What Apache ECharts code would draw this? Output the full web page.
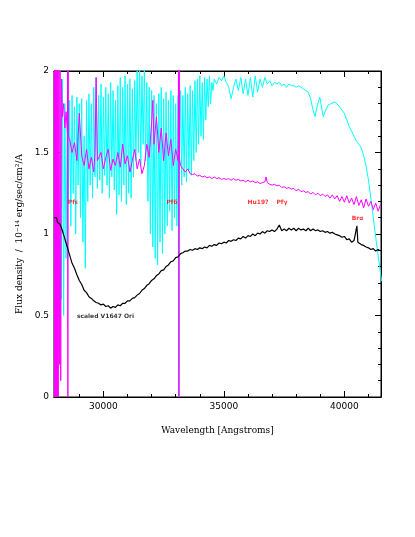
<!DOCTYPE html>
<html>
<head>
<meta charset="utf-8">
<script src="https://cdn.jsdelivr.net/npm/echarts@6/dist/echarts.min.js"></script>
<style>
  html, body { margin: 0; padding: 0; background: #fff; }
  #chart { width: 415px; height: 537px; }
</style>
</head>
<body>
<div id="chart"></div>
<script>
// axis range and ticks
const xMin = 27950, xMax = 41520
const xMajor = [30000, 35000, 40000]
const xMinor = [28000, 29000, 31000, 32000, 33000, 34000, 36000, 37000, 38000, 39000, 41000]

// cyan spectrum [wavelength, flux]
const cyan = [
  [28200,2.10],[28250,0.60],[28300,1.95],[28350,0.50],[28400,1.80],[28450,0.85],[28500,1.75],[28550,1.20],
  [28600,1.82],[28650,1.05],[28700,1.85],[28750,1.25],[28800,1.78],[28850,1.00],[28900,1.84],[28950,1.30],
  [29000,1.80],[29050,1.10],[29100,1.83],[29150,0.95],[29200,1.60],[29250,0.79],[29300,1.82],[29350,1.20],
  [29400,1.86],[29450,1.30],[29500,1.80],[29550,1.22],[29600,1.90],[29650,1.35],[29700,1.96],[29750,1.28],
  [29800,1.85],[29850,1.33],[29900,1.92],[29950,1.25],[30000,1.84],[30050,1.36],[30100,1.90],[30150,1.30],
  [30200,1.86],[30250,1.22],[30300,1.93],[30350,1.35],[30400,1.88],[30450,1.27],[30500,1.82],[30550,1.12],
  [30600,1.91],[30650,1.24],[30700,1.96],[30750,1.20],[30800,1.90],[30850,1.30],[30900,1.97],[30950,1.18],
  [31000,1.92],[31050,1.25],[31100,1.95],[31150,1.22],[31200,1.89],[31250,1.35],[31300,1.94],[31350,1.45],
  [31400,2.00],[31450,1.50],[31500,2.05],[31550,1.42],[31600,1.97],[31650,1.55],[31700,2.02],[31750,1.45],
  [31800,1.93],[31850,1.20],[31900,1.90],[31950,1.00],[32000,1.88],[32050,0.92],[32100,1.85],[32150,0.85],
  [32200,1.80],[32250,0.81],[32300,1.86],[32350,0.95],[32400,1.90],[32450,0.88],[32500,1.83],[32550,1.00],
  [32600,1.87],[32650,1.05],[32700,1.82],[32750,1.14],[32800,1.88],[32850,1.02],[32900,1.85],[32950,1.10],
  [33000,1.80],[33050,1.05],[33100,1.85],[33130,0.00],[33160,1.50],[33200,1.88],[33250,1.30],[33300,1.85],
  [33350,1.35],[33400,1.90],[33450,1.32],[33500,1.86],[33550,1.39],[33600,1.91],[33650,1.36],[33700,1.88],
  [33750,1.45],[33800,1.94],[33850,1.50],[33900,1.95],[33950,1.55],[34000,1.97],[34050,1.60],[34100,1.93],
  [34150,1.58],[34200,1.96],[34250,1.70],[34300,1.95],[34350,1.78],[34400,1.97],[34450,1.80],[34500,1.93],
  [34550,1.88],[34600,1.95],[34700,1.92],[34800,1.96],[34900,1.94],[35000,1.97],[35100,1.93],[35200,1.90],
  [35300,1.83],[35400,1.90],[35500,1.95],[35600,1.88],[35700,1.96],[35800,1.86],[35900,1.95],[36000,1.85],
  [36100,1.96],[36200,1.84],[36300,1.97],[36400,1.87],[36500,1.95],[36600,1.90],[36700,1.96],[36800,1.92],
  [36900,1.94],[37000,1.91],[37100,1.93],[37200,1.92],[37300,1.93],[37400,1.91],[37500,1.92],[37600,1.90],
  [37700,1.92],[37800,1.91],[37900,1.91],[38000,1.90],[38100,1.91],[38200,1.90],[38300,1.89],[38400,1.88],
  [38500,1.87],[38600,1.83],[38700,1.76],[38780,1.72],[38880,1.79],[38980,1.84],[39050,1.78],[39120,1.72],
  [39200,1.75],[39320,1.79],[39450,1.80],[39600,1.81],[39750,1.79],[39900,1.76],[40000,1.74],[40100,1.70],
  [40200,1.66],[40300,1.63],[40400,1.60],[40500,1.57],[40600,1.55],[40700,1.53],[40800,1.48],[40900,1.42],
  [41000,1.33],[41100,1.22],[41200,1.10],[41300,0.98],[41400,0.87],[41500,0.76],[41550,0.71]
]

// magenta spectrum [wavelength, flux]
const magenta = [
  [27955,2.30],[27970,0.00],[27985,2.40],[28000,0.00],[28015,2.30],[28030,0.00],[28045,2.40],[28060,0.00],
  [28075,2.30],[28090,0.00],[28105,2.20],[28125,0.00],[28150,2.10],[28175,0.20],[28200,2.05],[28230,0.10],
  [28260,1.95],[28300,1.72],[28350,1.80],[28400,1.65],[28450,1.75],[28510,1.62],[28515,2.30],[28525,0.00],
  [28535,2.30],[28545,1.60],[28600,1.58],[28700,1.50],[28800,1.56],[28900,1.45],[29000,1.74],[29100,1.48],
  [29200,1.42],[29300,1.52],[29400,1.40],[29500,1.47],[29600,1.38],[29650,1.50],[29700,1.96],[29750,1.45],
  [29800,1.44],[29900,1.50],[30000,1.40],[30100,1.47],[30200,1.52],[30300,1.39],[30400,1.46],[30500,1.42],
  [30600,1.50],[30700,1.41],[30800,1.55],[30900,1.43],[31000,1.48],[31100,1.38],[31200,1.45],[31300,1.52],
  [31400,1.40],[31500,1.46],[31600,1.37],[31700,1.42],[31800,1.55],[31900,1.47],[32000,1.68],[32050,1.82],
  [32100,1.55],[32200,1.72],[32300,1.50],[32400,1.65],[32500,1.45],[32600,1.62],[32700,1.48],[32800,1.58],
  [32900,1.42],[33000,1.52],[33100,1.45],[33125,2.30],[33135,0.00],[33145,2.30],[33160,1.46],[33200,1.42],
  [33300,1.40],[33400,1.38],[33500,1.40],[33600,1.37],[33700,1.365],[33800,1.37],[33900,1.355],[34000,1.36],
  [34100,1.35],[34200,1.355],[34300,1.345],[34400,1.35],[34500,1.34],[34600,1.35],[34700,1.34],[34800,1.345],
  [34900,1.335],[35000,1.34],[35100,1.335],[35200,1.34],[35300,1.33],[35400,1.34],[35500,1.33],[35600,1.335],
  [35700,1.325],[35800,1.33],[35900,1.32],[36000,1.33],[36100,1.32],[36200,1.325],[36300,1.315],[36400,1.32],
  [36500,1.31],[36600,1.315],[36700,1.32],[36750,1.35],[36800,1.315],[36900,1.305],[37000,1.30],[37100,1.305],
  [37200,1.295],[37300,1.30],[37400,1.285],[37500,1.29],[37600,1.28],[37700,1.285],[37800,1.275],[37900,1.28],
  [38000,1.265],[38100,1.275],[38200,1.26],[38300,1.265],[38400,1.255],[38500,1.26],[38600,1.245],[38700,1.255],
  [38800,1.24],[38900,1.25],[39000,1.235],[39100,1.245],[39200,1.23],[39300,1.24],[39400,1.22],[39500,1.24],
  [39600,1.215],[39700,1.235],[39800,1.20],[39900,1.23],[40000,1.195],[40100,1.235],[40200,1.19],[40300,1.22],
  [40400,1.18],[40500,1.23],[40600,1.175],[40700,1.21],[40800,1.16],[40900,1.215],[41000,1.17],[41100,1.20],
  [41200,1.15],[41300,1.19],[41400,1.14],[41500,1.18]
]

// scaled V1647 Ori [wavelength, flux]
const scaled = [
  [27960,1.10],[28000,1.09],[28050,1.10],[28100,1.07],[28200,1.06],[28300,1.02],[28400,0.97],[28500,0.92],
  [28600,0.87],[28700,0.82],[28800,0.79],[28900,0.75],[29000,0.715],[29100,0.69],[29200,0.655],[29300,0.64],
  [29400,0.615],[29500,0.605],[29600,0.59],[29700,0.58],[29800,0.575],[29900,0.565],[30000,0.57],[30100,0.555],
  [30200,0.56],[30300,0.545],[30400,0.555],[30500,0.55],[30600,0.565],[30700,0.56],[30800,0.575],[30900,0.575],
  [31000,0.59],[31100,0.59],[31200,0.605],[31300,0.61],[31400,0.625],[31500,0.635],[31600,0.655],[31700,0.665],
  [31800,0.685],[31900,0.695],[32000,0.715],[32100,0.725],[32200,0.745],[32300,0.755],[32400,0.775],[32500,0.78],
  [32600,0.80],[32700,0.81],[32800,0.83],[32900,0.835],[33000,0.855],[33100,0.86],[33200,0.88],[33300,0.885],
  [33400,0.895],[33500,0.895],[33600,0.905],[33700,0.90],[33800,0.91],[33900,0.905],[34000,0.915],[34100,0.91],
  [34200,0.92],[34300,0.915],[34400,0.93],[34500,0.925],[34600,0.935],[34700,0.93],[34800,0.945],[34900,0.94],
  [35000,0.95],[35100,0.945],[35200,0.96],[35300,0.955],[35400,0.965],[35500,0.96],[35600,0.975],[35700,0.97],
  [35800,0.985],[35900,0.975],[36000,0.99],[36100,0.985],[36200,1.00],[36300,0.99],[36400,1.005],[36500,1.00],
  [36600,1.015],[36700,1.005],[36800,1.02],[36900,1.015],[37000,1.025],[37100,1.015],[37200,1.03],[37300,1.055],
  [37400,1.02],[37500,1.03],[37600,1.02],[37700,1.035],[37800,1.025],[37900,1.035],[38000,1.02],[38100,1.035],
  [38200,1.025],[38300,1.03],[38400,1.02],[38500,1.035],[38600,1.02],[38700,1.03],[38800,1.02],[38900,1.025],
  [39000,1.015],[39100,1.02],[39200,1.01],[39300,1.015],[39400,1.005],[39500,1.01],[39600,1.00],[39700,0.995],
  [39800,0.99],[39900,0.98],[40000,0.985],[40100,0.965],[40200,0.97],[40300,0.95],[40400,0.96],[40480,0.955],
  [40520,1.05],[40560,0.95],[40600,0.945],[40700,0.935],[40800,0.93],[40900,0.92],[41000,0.915],[41100,0.905],
  [41200,0.91],[41300,0.895],[41400,0.905],[41500,0.895]
]

// line identifications
const lineNames = ['Pfε', 'Pfδ', 'Hu19?', 'Pfγ', 'Brα']
const lineWave = [28740, 32846, 36415, 37411, 40544]
const lineFlux = [1.196, 1.196, 1.196, 1.196, 1.098]
const scaledName = 'scaled V1647 Ori'
const scaledPos = [30087, 0.497]

const chart = echarts.init(document.getElementById('chart'))
const box = { left: 54, top: 71, width: 327, height: 326 }
const black = '#000'

function xAxisOf(grid, pos, ticks, len, labels) {
  return {
    type: 'value', gridIndex: grid, position: pos, min: xMin, max: xMax,
    axisLine: { show: true, onZero: false, lineStyle: { color: black, width: 1 } },
    axisTick: { show: true, inside: true, length: len, customValues: ticks, lineStyle: { color: black } },
    axisLabel: labels
      ? { show: true, customValues: ticks, formatter: v => String(v), color: black, fontSize: 9, fontFamily: 'DejaVu Sans', margin: 5 }
      : { show: false },
    splitLine: { show: false },
  }
}
function yAxisOf(pos, labels) {
  return {
    type: 'value', gridIndex: 0, position: pos, min: 0, max: 2, interval: 0.5,
    axisLine: { show: true, onZero: false, lineStyle: { color: black, width: 1 } },
    axisTick: { show: true, inside: true, length: 6, lineStyle: { color: black } },
    minorTick: { show: true, splitNumber: 5, length: 3, lineStyle: { color: black } },
    axisLabel: labels
      ? { show: true, color: black, fontSize: 9, fontFamily: 'DejaVu Sans', margin: 5 }
      : { show: false },
    splitLine: { show: false },
  }
}

const bottomAxis = xAxisOf(0, 'bottom', xMajor, 6, true)
bottomAxis.name = 'Wavelength [Angstroms]'
bottomAxis.nameLocation = 'middle'
bottomAxis.nameGap = 29
bottomAxis.nameTextStyle = { color: black, fontSize: 9, fontFamily: 'DejaVu Serif' }

const leftAxis = yAxisOf('left', true)
leftAxis.name = 'Flux density  /  10⁻¹⁴ erg/sec/cm²/A'
leftAxis.nameLocation = 'middle'
leftAxis.nameGap = 27
leftAxis.nameTextStyle = { color: black, fontSize: 9, fontFamily: 'DejaVu Serif' }

const lineStyleOf = (c, w) => ({ color: c, width: w })
const tagLabel = color => ({
  show: true, position: 'inside', formatter: p => p.name,
  color: color, fontSize: 6, fontWeight: 'bold', fontFamily: 'DejaVu Sans',
})

chart.setOption({
  animation: false,
  backgroundColor: '#fff',
  grid: [
    Object.assign({ show: true, borderColor: black, borderWidth: 1, backgroundColor: 'transparent' }, box),
    Object.assign({}, box),
  ],
  xAxis: [
    bottomAxis,
    xAxisOf(0, 'top', xMajor, 6, false),
    xAxisOf(1, 'bottom', xMinor, 3, false),
    xAxisOf(1, 'top', xMinor, 3, false),
  ],
  yAxis: [
    leftAxis,
    yAxisOf('right', false),
    { type: 'value', gridIndex: 1, min: 0, max: 2, show: false },
  ],
  series: [
    {
      type: 'line', xAxisIndex: 0, yAxisIndex: 0, data: cyan, showSymbol: false, clip: true, z: 2,
      lineStyle: lineStyleOf('#00ffff', 1), itemStyle: { color: '#00ffff' },
    },
    {
      type: 'line', xAxisIndex: 0, yAxisIndex: 0, data: magenta, showSymbol: false, clip: true, z: 3,
      lineStyle: lineStyleOf('#ff00ff', 1), itemStyle: { color: '#ff00ff' },
    },
    {
      type: 'line', xAxisIndex: 0, yAxisIndex: 0, data: scaled, showSymbol: false, clip: true, z: 4,
      lineStyle: lineStyleOf(black, 1.2), itemStyle: { color: black },
    },
    {
      type: 'scatter', xAxisIndex: 0, yAxisIndex: 0, symbolSize: 0, z: 10,
      data: lineNames.map((n, i) => ({ name: n, value: [lineWave[i], lineFlux[i]] })),
      label: tagLabel('#ff0000'),
    },
    {
      type: 'scatter', xAxisIndex: 0, yAxisIndex: 0, symbolSize: 0, z: 10,
      data: [{ name: scaledName, value: scaledPos }],
      label: tagLabel(black),
    },
  ],
})
</script>
</body>
</html>
